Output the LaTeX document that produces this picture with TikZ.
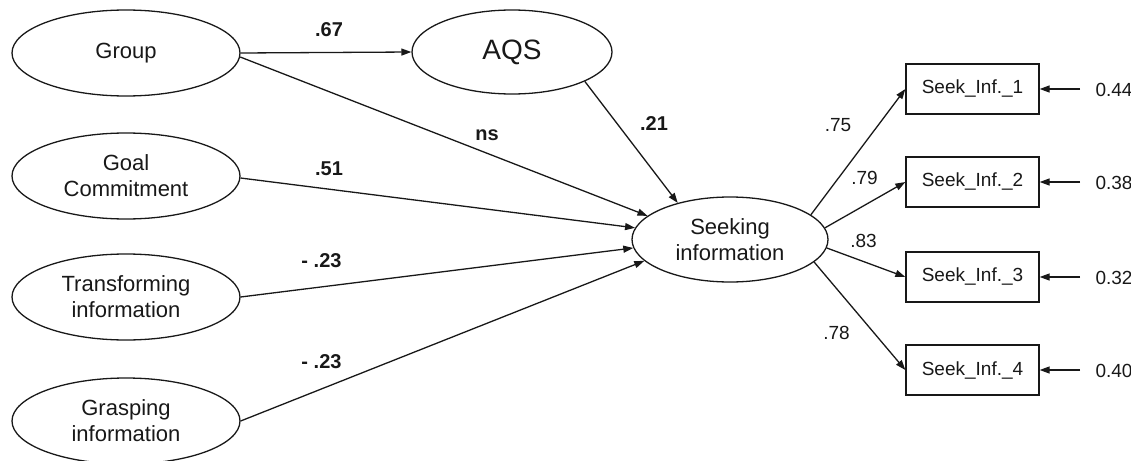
\documentclass[tikz,border=0pt]{standalone}
\usepackage{fontspec}
\setmainfont{Liberation Sans}
\usetikzlibrary{shapes.geometric,arrows.meta}
\definecolor{ink}{HTML}{181818}
\begin{document}
\begin{tikzpicture}[x=1pt,y=-1pt,
  every node/.style={text=ink},
  latent/.style={ellipse,draw=ink,line width=1.3pt,inner sep=0pt,
    minimum width=228pt,minimum height=86pt,align=center,
    font=\fontsize{22}{26}\selectfont},
  observed/.style={rectangle,draw=ink,line width=1.3pt,inner sep=0pt,
    minimum width=133pt,minimum height=50pt,font=\fontsize{19}{22}\selectfont},
  path/.style={draw=ink,line width=1.3pt,-{Triangle[length=10pt,width=7pt]}},
  bold/.style={font=\bfseries\fontsize{20}{24}\selectfont,anchor=base},
  small/.style={font=\fontsize{19}{22}\selectfont,anchor=base},
  errlab/.style={font=\fontsize{19}{22}\selectfont,anchor=base west}]
\useasboundingbox (0,0) rectangle (1131,460);

% latent variables
\node[latent] (grp)   at (126,53)  {Group};
\node[latent] (goal)  at (126,176) {Goal\\Commitment};
\node[latent] (trans) at (126,297) {Transforming\\information};
\node[latent] (grasp) at (126,421) {Grasping\\information};
\node[latent,minimum width=200pt,minimum height=84pt,font=\fontsize{28}{32}\selectfont]
  (aqs) at (512,52) {AQS};
\node[latent,minimum width=196pt,minimum height=85pt] (seek) at (730,239.5)
  {Seeking\\information};

% indicators
\foreach \i/\y in {1/89,2/182,3/277,4/370}{
  \node[observed] (ind\i) at (972.5,\y) {Seek\_Inf.\_\i};
  \coordinate (e\i) at (1080,\y);
}

% structural paths
\draw[path] (grp.east) -- (aqs.west);
\draw[path] (grp.-2) -- (seek.164);
\draw[path] (goal.-1) -- (seek.173);
\draw[path] (trans.east) -- (seek.185);
\draw[path] (grasp.east) -- (seek.194);
\draw[path] (aqs.-22) -- (seek.145);

% measurement paths
\draw[path] (seek.17) -- (ind1.west);
\draw[path] (seek.7) -- (ind2.west);
\draw[path] (seek.-5) -- (ind3.west);
\draw[path] (seek.-15) -- (ind4.west);

% residuals
\foreach \i in {1,...,4}{ \draw[path] (e\i) -- (ind\i.east); }
\node[errlab] (r1) at (1092,96)  {0.44};
\node[errlab] (r2) at (1092,189) {0.38};
\node[errlab] (r3) at (1092,284) {0.32};
\node[errlab] (r4) at (1092,377) {0.40};

% path coefficients
\node[bold] (c1) at (329,37)  {.67};
\node[bold] (c2) at (487,140) {ns};
\node[bold] (c3) at (654,130) {.21};
\node[bold] (c4) at (329,175) {.51};
\node[bold] (c5) at (321.5,267) {- .23};
\node[bold] (c6) at (321.5,368) {- .23};

% loadings
\node[small] (l1) at (838,131)   {.75};
\node[small] (l2) at (864.5,184) {.79};
\node[small] (l3) at (863.5,247) {.83};
\node[small] (l4) at (836.5,339) {.78};
\end{tikzpicture}
\end{document}
